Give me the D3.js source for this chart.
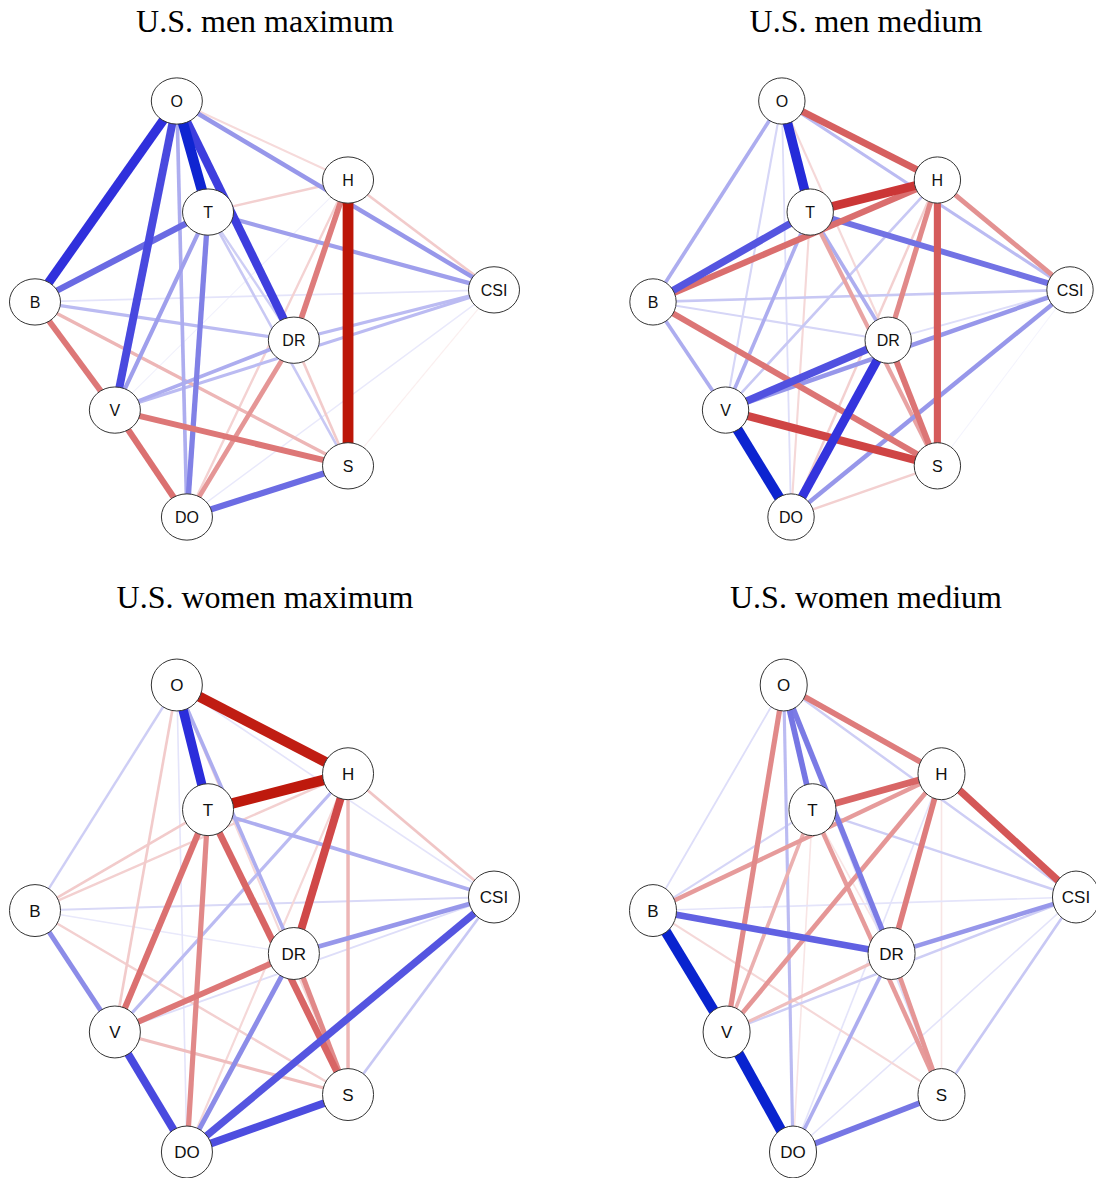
<!DOCTYPE html>
<html>
<head>
<meta charset="utf-8">
<script src="https://cdn.jsdelivr.net/npm/d3@7"></script>
<style>
  html, body { margin: 0; padding: 0; background: #ffffff; }
  svg { display: block; }
</style>
</head>
<body>
<svg id="chart" width="1096" height="1178"></svg>
<script>
// Node names and the shared (normalised) network layout, x and y in [0, 1]
const nodeNames = ["O", "H", "T", "CSI", "B", "DR", "V", "S", "DO"];
const layoutX   = [0.309, 0.682, 0.377, 1.000, 0.000, 0.564, 0.174, 0.682, 0.331];
const layoutY   = [0.000, 0.190, 0.267, 0.454, 0.483, 0.575, 0.743, 0.877, 1.000];

// Panel titles
const panelTitles = ["U.S. men maximum", "U.S. men medium", "U.S. women maximum", "U.S. women medium"];

// Edge weights: [from, to, weight]; positive = blue, negative = red
const menMaximum = [
  ["O","T", 0.95], ["O","B", 0.84], ["O","DR", 0.77], ["O","V", 0.72],
  ["O","CSI", 0.38], ["O","DO", 0.30], ["O","H", -0.14],
  ["T","B", 0.56], ["T","DO", 0.46], ["T","V", 0.35], ["T","CSI", 0.35],
  ["T","DR", 0.18], ["T","S", 0.20], ["T","H", -0.18],
  ["H","S", -1.00], ["H","DR", -0.50], ["H","CSI", -0.20], ["H","DO", -0.17], ["H","V", 0.05],
  ["B","V", -0.52], ["B","S", -0.28], ["B","DR", 0.25], ["B","CSI", 0.10], ["B","DO", 0.10],
  ["V","S", -0.52], ["V","DO", -0.55], ["V","DR", 0.30], ["V","CSI", 0.25],
  ["DR","CSI", 0.25], ["DR","DO", -0.40], ["DR","S", -0.20],
  ["S","DO", 0.55], ["S","CSI", -0.06], ["DO","CSI", 0.08]
];

const menMedium = [
  ["O","T", 0.88], ["O","H", -0.62], ["O","B", 0.30], ["O","V", 0.15],
  ["O","DO", 0.12], ["O","CSI", 0.25], ["O","DR", -0.15],
  ["T","H", -0.80], ["T","B", 0.66], ["T","CSI", 0.52], ["T","V", 0.30],
  ["T","DO", -0.15], ["T","DR", 0.30], ["T","S", -0.35],
  ["H","B", -0.56], ["H","S", -0.64], ["H","DR", -0.45], ["H","CSI", -0.42],
  ["H","V", 0.20], ["H","DO", -0.18],
  ["B","CSI", 0.20], ["B","DR", 0.15], ["B","V", 0.30], ["B","S", -0.53],
  ["V","DR", 0.68], ["V","CSI", 0.38], ["V","S", -0.74], ["V","DO", 0.96],
  ["DR","DO", 0.82], ["DR","S", -0.53], ["DR","CSI", 0.12],
  ["CSI","DO", 0.38], ["CSI","S", 0.04], ["S","DO", -0.18]
];

const womenMaximum = [
  ["O","H", -0.95], ["O","T", 0.86], ["O","B", 0.18], ["O","V", -0.20],
  ["O","DO", 0.10], ["O","DR", 0.30], ["O","CSI", 0.10], ["O","S", -0.15],
  ["T","H", -0.98], ["T","B", -0.20], ["T","V", -0.55], ["T","DO", -0.45],
  ["T","S", -0.60], ["T","CSI", 0.30],
  ["H","DR", -0.72], ["H","S", -0.28], ["H","CSI", -0.22], ["H","V", 0.25],
  ["H","B", -0.18], ["H","DO", -0.15],
  ["B","CSI", 0.14], ["B","DR", 0.08], ["B","V", 0.42], ["B","S", -0.18],
  ["V","DR", -0.52], ["V","CSI", 0.12], ["V","S", -0.25], ["V","DO", 0.72],
  ["DR","CSI", 0.38], ["DR","S", -0.45], ["DR","DO", 0.42],
  ["CSI","DO", 0.66], ["CSI","S", 0.20], ["S","DO", 0.70]
];

const womenMedium = [
  ["O","H", -0.50], ["O","T", 0.50], ["O","DR", 0.48], ["O","V", -0.45],
  ["O","B", 0.12], ["O","DO", 0.25], ["O","CSI", 0.18], ["O","S", 0.12],
  ["T","H", -0.60], ["T","B", 0.15], ["T","V", -0.30], ["T","DO", -0.10],
  ["T","S", -0.38], ["T","DR", -0.10], ["T","CSI", 0.18],
  ["H","CSI", -0.66], ["H","DR", -0.50], ["H","V", -0.40], ["H","S", -0.10],
  ["H","DO", 0.10], ["H","B", -0.38],
  ["B","DR", 0.60], ["B","V", 0.97], ["B","CSI", 0.10], ["B","S", -0.15],
  ["V","DO", 0.97], ["V","DR", -0.25], ["V","CSI", 0.18],
  ["DR","CSI", 0.38], ["DR","S", -0.40], ["DR","DO", 0.30],
  ["CSI","DO", 0.10], ["CSI","S", 0.20], ["S","DO", 0.50]
];

const panelEdges = [menMaximum, menMedium, womenMaximum, womenMedium];

// Panel frames: horizontal and vertical extent of the layout, title anchor
const panels = [
  { x: [35, 494],  y: [101, 517],  tx: 265, ty: 32,  label: 16 },
  { x: [653, 1070], y: [101, 517], tx: 866, ty: 32,  label: 16 },
  { x: [35, 494],  y: [685, 1152], tx: 265, ty: 608, label: 17 },
  { x: [653, 1076], y: [685, 1152], tx: 866, ty: 608, label: 17 }
];

const svg = d3.select("#chart");

// Edge styling scales
const widthScale = d3.scaleLinear().domain([0, 1]).range([0.6, 10.8]);
const blueScale = d3.scaleLinear()
  .domain([0, 0.5, 0.85, 1])
  .range(["#ffffff", "#7676e4", "#2e2edc", "#0020cc"])
  .clamp(true);
const redScale = d3.scaleLinear()
  .domain([0, 0.5, 0.85, 1])
  .range(["#ffffff", "#de7c7c", "#c82a2a", "#bc1608"])
  .clamp(true);

panels.forEach((p, i) => {
  const xs = d3.scaleLinear().domain([0, 1]).range(p.x);
  const ys = d3.scaleLinear().domain([0, 1]).range(p.y);
  const rx = (p.x[1] - p.x[0]) * 0.0556;
  const ry = (p.y[1] - p.y[0]) * 0.0556;

  const pos = {};
  nodeNames.forEach((n, k) => { pos[n] = { x: xs(layoutX[k]), y: ys(layoutY[k]) }; });

  const g = svg.append("g").attr("class", "panel");

  g.append("text")
    .attr("x", p.tx)
    .attr("y", p.ty)
    .attr("text-anchor", "middle")
    .attr("font-family", "'Liberation Serif', 'Times New Roman', serif")
    .attr("font-size", 32)
    .attr("fill", "#000")
    .text(panelTitles[i]);

  const edges = panelEdges[i].slice().sort((a, b) => Math.abs(a[2]) - Math.abs(b[2]));

  g.append("g").selectAll("line")
    .data(edges)
    .join("line")
    .attr("x1", d => pos[d[0]].x)
    .attr("y1", d => pos[d[0]].y)
    .attr("x2", d => pos[d[1]].x)
    .attr("y2", d => pos[d[1]].y)
    .attr("stroke", d => d[2] > 0 ? blueScale(d[2]) : redScale(-d[2]))
    .attr("stroke-width", d => widthScale(Math.abs(d[2])))
    .attr("stroke-linecap", "butt");

  const nodeG = g.append("g").selectAll("g")
    .data(nodeNames)
    .join("g")
    .attr("transform", d => `translate(${pos[d].x},${pos[d].y})`);

  nodeG.append("ellipse")
    .attr("rx", rx)
    .attr("ry", ry)
    .attr("fill", "#ffffff")
    .attr("stroke", "#333333")
    .attr("stroke-width", 1);

  nodeG.append("text")
    .attr("text-anchor", "middle")
    .attr("dy", "0.36em")
    .attr("font-family", "'Liberation Sans', Arial, sans-serif")
    .attr("font-size", p.label)
    .attr("fill", "#111")
    .text(d => d);
});
</script>
</body>
</html>
